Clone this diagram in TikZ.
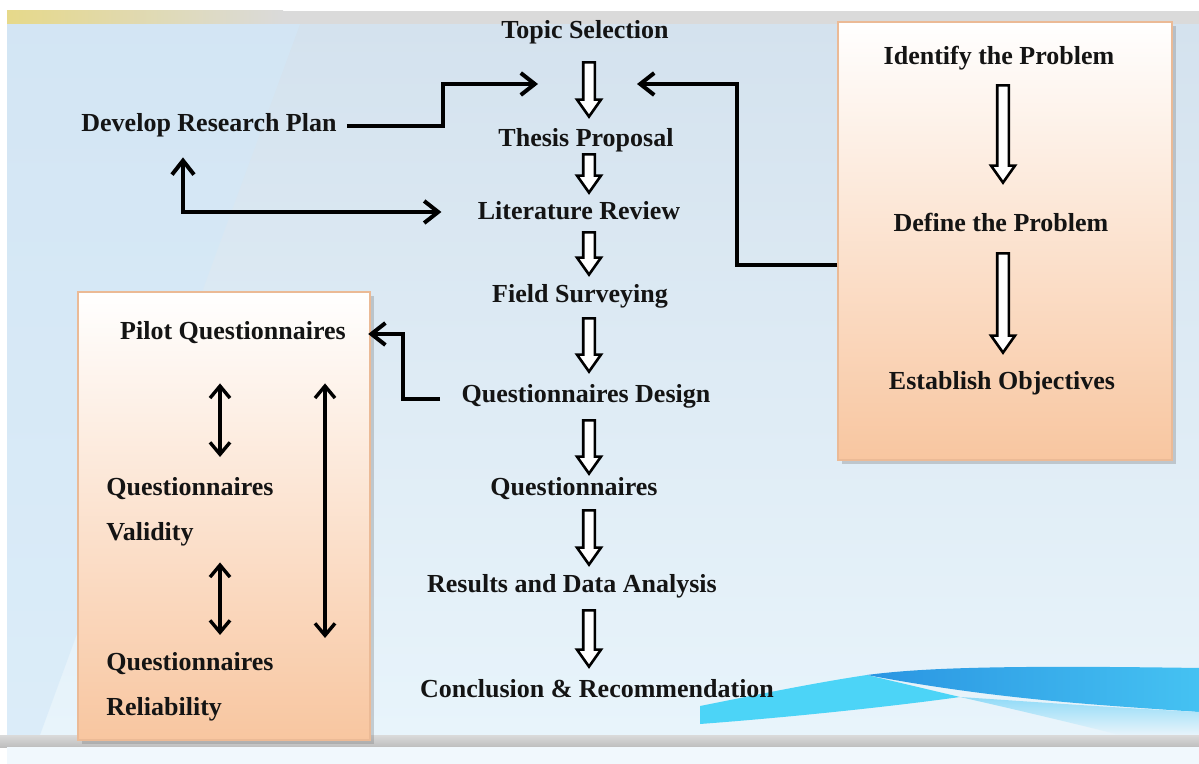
\documentclass[tikz,border=0pt]{standalone}
\usepackage{fontspec}
\setmainfont{Liberation Serif}
\usetikzlibrary{arrows.meta,calc,shadows}

\definecolor{bgtop}{HTML}{D4E2EE}
\definecolor{bgbot}{HTML}{E8F4FB}
\definecolor{bgleft}{HTML}{D3E8F8}
\definecolor{peach}{HTML}{F8C6A0}
\definecolor{peachline}{HTML}{EBBA96}
\definecolor{swooshlight}{HTML}{4CD4F7}
\definecolor{swooshdark}{HTML}{2A95E2}
\definecolor{swooshmid}{HTML}{45C2F2}
\definecolor{barlight}{HTML}{DADADA}
\definecolor{bardark}{HTML}{BEBEBE}
\definecolor{baryellow}{HTML}{E6D98A}
\definecolor{ink}{HTML}{141414}

\begin{document}
\begin{tikzpicture}[x=0.5pt,y=-0.5pt,>=Straight Barb,
    flow/.style={font=\bfseries\fontsize{13}{15}\selectfont,text=ink,inner sep=0pt,anchor=base,text height=9pt,text depth=3pt},
    boxtext/.style={font=\bfseries\fontsize{13}{22.5}\selectfont,text=ink,inner sep=0pt,align=left,anchor=north west},
    sidebox/.style={draw=peachline,line width=0.6pt,top color=white,bottom color=peach,drop shadow={shadow xshift=2pt,shadow yshift=-2pt,opacity=0.35}},
    hollow/.style={draw=black,fill=white,line width=1.3pt,line join=miter,
      to path={let \p1=(\tikztostart),\p2=(\tikztotarget) in
        (\x1-2.9pt,\y1) -- (\x1-2.9pt,\y2+8.5pt) -- (\x1-6pt,\y2+8.5pt) -- (\x1,\y2)
        -- (\x1+6pt,\y2+8.5pt) -- (\x1+2.9pt,\y2+8.5pt) -- (\x1+2.9pt,\y1) -- cycle}},
    link/.style={line width=2pt,-{Straight Barb[length=7pt,width=11pt]}},
    twolink/.style={line width=2pt,{Straight Barb[length=7pt,width=11pt]}-{Straight Barb[length=7pt,width=11pt]}},
    twoway/.style={line width=1.7pt,{Straight Barb[length=6pt,width=10pt]}-{Straight Barb[length=6pt,width=10pt]}}]

\useasboundingbox (0,0) rectangle (1199,764);

% slide background
\fill[white] (0,0) rectangle (1199,764);
\shade[top color=bgtop,bottom color=bgbot] (7,24) rectangle (1199,735);
\fill[bgleft,opacity=0.6] (7,24) -- (300,24) -- (40,735) -- (7,735) -- cycle;
\shade[left color=baryellow,right color=barlight] (7,11) rectangle (283,24);
\fill[barlight] (283,11) rectangle (1199,24);
\fill[swooshlight] (700,706) .. controls (770,692) and (820,682) .. (867,675)
  -- (960,697) .. controls (880,708) and (780,718) .. (700,724) -- cycle;
\shade[left color=swooshdark,right color=swooshmid] (867,675) .. controls (920,668) and (1000,665) .. (1199,668)
  -- (1199,712) .. controls (1100,705) and (1000,700) .. (867,675) -- cycle;
\shade[top color=swooshmid!60,bottom color=bgbot] (960,697) .. controls (1050,703) and (1120,708) .. (1199,712)
  -- (1199,735) -- (1120,735) .. controls (1060,720) and (1000,706) .. (960,697) -- cycle;
\shade[top color=barlight,bottom color=bardark] (0,735) rectangle (1199,747);
\fill[bgbot!60!white] (7,747) rectangle (1199,764);

% side boxes
\node[sidebox,minimum width=146pt,minimum height=224pt] (lbox) at (224,516) {};
\node[sidebox,minimum width=167pt,minimum height=219pt] (rbox) at (1005,241) {};

% main column
\node[flow] (topic) at (585,39) {Topic Selection};
\node[flow] (thesis) at (586,147) {Thesis Proposal};
\node[flow] (lit) at (579,220) {Literature Review};
\node[flow] (field) at (580,303) {Field Surveying};
\node[flow] (qd) at (586,402) {Questionnaires Design};
\node[flow] (quest) at (574,495) {Questionnaires};
\node[flow] (results) at (572,592) {Results and Data Analysis};
\node[flow] (concl) at (597,697) {Conclusion \& Recommendation};

\node[flow] (drp) at (209,132) {Develop Research Plan};

\node[flow] (pilot) at (233,340) {Pilot Questionnaires};
\node[boxtext] (valid) at (106,477) {Questionnaires\\Validity};
\node[boxtext] (reliab) at (106,652) {Questionnaires\\Reliability};

\node[flow] (ident) at (999,65) {Identify the Problem};
\node[flow] (define) at (1001,232) {Define the Problem};
\node[flow] (estab) at (1002,390) {Establish Objectives};

\coordinate (spine) at (589,0);
\coordinate (rspine) at (1003,0);
\coordinate (inL) at (538,84);
\coordinate (inR) at (637,84);
\coordinate (bendL) at (443,0);
\coordinate (qa) at (220,0);
\coordinate (qb) at (325,0);

\draw[hollow] ($(topic.south -| spine)+(0,17)$) to ($(thesis.north -| spine)+(0,-12)$);
\draw[hollow] ($(thesis.south -| spine)+(0,1)$) to ($(lit.north -| spine)+(0,-9)$);
\draw[hollow] ($(lit.south -| spine)+(0,6)$) to ($(field.north -| spine)+(0,-10)$);
\draw[hollow] ($(field.south -| spine)+(0,9)$) to ($(qd.north -| spine)+(0,-12)$);
\draw[hollow] ($(qd.south -| spine)+(0,12)$) to ($(quest.north -| spine)+(0,-3)$);
\draw[hollow] ($(quest.south -| spine)+(0,9)$) to ($(results.north -| spine)+(0,-9)$);
\draw[hollow] ($(results.south -| spine)+(0,12)$) to ($(concl.north -| spine)+(0,-12)$);

\draw[hollow] ($(ident.south -| rspine)+(0,14)$) to ($(define.north -| rspine)+(0,-31)$);
\draw[hollow] ($(define.south -| rspine)+(0,15)$) to ($(estab.north -| rspine)+(0,-19)$);

\draw[link] ([xshift=5pt]drp.east) -- (drp.east -| bendL) |- (inL);
\draw[link] ($(rbox.west)+(0,24)$) -- ++(-100,0) |- (inR);
\draw[twolink] ($(drp.south)+(-26,19)$) |- ($(lit.west)+(-36,-2)$);
\draw[link] ($(qd.west)+(-21,3)$) -- ++(-37,0) |- ($(pilot.east)+(22,0)$);

\draw[twoway] ($(pilot.south -| qa)+(0,37)$) -- ($(valid.north -| qa)+(0,-20)$);
\draw[twoway] ($(valid.south -| qa)+(0,16)$) -- ($(reliab.north -| qa)+(0,-17)$);
\draw[twoway] ($(pilot.south -| qb)+(0,37)$) -- ($(reliab.north -| qb)+(0,-14)$);

\end{tikzpicture}
\end{document}
